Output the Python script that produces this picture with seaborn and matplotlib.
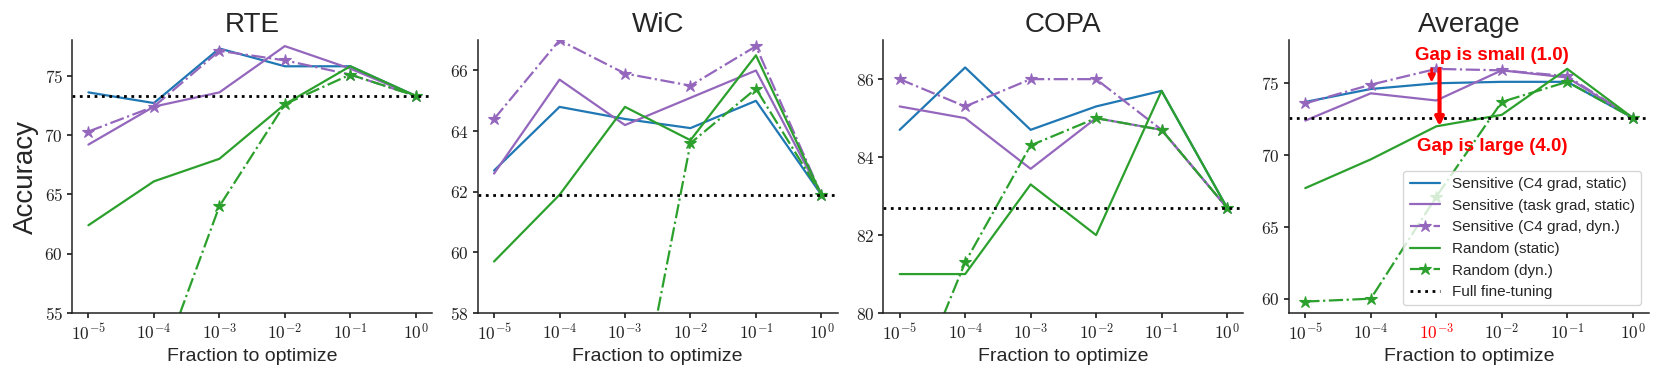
import numpy as np
import pandas as pd
import matplotlib
matplotlib.use("Agg")
import matplotlib.pyplot as plt
from matplotlib.ticker import FixedLocator, FixedFormatter, NullLocator
import seaborn as sns

# ---------------- data ----------------
fractions = [1e-5, 1e-4, 1e-3, 1e-2, 1e-1, 1e0]
xtick_labels = [r"$10^{-5}$", r"$10^{-4}$", r"$10^{-3}$", r"$10^{-2}$", r"$10^{-1}$", r"$10^{0}$"]
panels = ["RTE", "WiC", "COPA", "Average"]

series_names = [
    "Sensitive (C4 grad, static)",
    "Sensitive (task grad, static)",
    "Sensitive (C4 grad, dyn.)",
    "Random (static)",
    "Random (dyn.)",
]

# RTE
rte_c4_static = [73.6, 72.7, 77.3, 75.8, 75.8, 73.3]
rte_task_static = [69.2, 72.4, 73.6, 77.5, 75.6, 73.3]
rte_c4_dyn = [70.3, 72.4, 77.1, 76.3, 75.1, 73.3]
rte_rand_static = [62.4, 66.1, 68.0, 72.6, 75.8, 73.3]
rte_rand_dyn = [51.0, 49.0, 64.0, 72.6, 75.1, 73.3]
rte_full = 73.3

# WiC
wic_c4_static = [62.7, 64.8, 64.4, 64.1, 65.0, 61.9]
wic_task_static = [62.6, 65.7, 64.2, 65.1, 66.0, 61.9]
wic_c4_dyn = [64.4, 67.0, 65.9, 65.5, 66.8, 61.9]
wic_rand_static = [59.7, 61.9, 64.8, 63.7, 66.5, 61.9]
wic_rand_dyn = [51.2, 50.0, 52.5, 63.6, 65.4, 61.9]
wic_full = 61.9

# COPA
copa_c4_static = [84.7, 86.3, 84.7, 85.3, 85.7, 82.7]
copa_task_static = [85.3, 85.0, 83.7, 85.0, 84.7, 82.7]
copa_c4_dyn = [86.0, 85.3, 86.0, 86.0, 84.7, 82.7]
copa_rand_static = [81.0, 81.0, 83.3, 82.0, 85.7, 82.7]
copa_rand_dyn = [77.2, 81.3, 84.3, 85.0, 84.7, 82.7]
copa_full = 82.7

# Average
avg_c4_static = [73.7, 74.6, 75.0, 75.1, 75.1, 72.6]
avg_task_static = [72.4, 74.3, 73.8, 75.9, 75.4, 72.6]
avg_c4_dyn = [73.6, 74.9, 76.0, 75.9, 75.5, 72.6]
avg_rand_static = [67.7, 69.7, 72.0, 72.8, 76.0, 72.6]
avg_rand_dyn = [59.8, 60.0, 67.1, 73.7, 75.1, 72.6]
avg_full = 72.6

panel_series = {
    "RTE": [rte_c4_static, rte_task_static, rte_c4_dyn, rte_rand_static, rte_rand_dyn],
    "WiC": [wic_c4_static, wic_task_static, wic_c4_dyn, wic_rand_static, wic_rand_dyn],
    "COPA": [copa_c4_static, copa_task_static, copa_c4_dyn, copa_rand_static, copa_rand_dyn],
    "Average": [avg_c4_static, avg_task_static, avg_c4_dyn, avg_rand_static, avg_rand_dyn],
}
panel_full = {"RTE": rte_full, "WiC": wic_full, "COPA": copa_full, "Average": avg_full}

panel_ylim = {"RTE": (55, 78), "WiC": (58, 67), "COPA": (80, 87), "Average": (59, 78)}
panel_yticks = {"RTE": [55, 60, 65, 70, 75], "WiC": [58, 60, 62, 64, 66],
                "COPA": [80, 82, 84, 86], "Average": [60, 65, 70, 75]}

# ---------------- style ----------------
sns.set_theme(style="ticks")
plt.rcParams["font.family"] = ["Liberation Sans", "DejaVu Sans"]
plt.rcParams["mathtext.fontset"] = "cm"
plt.rcParams["axes.edgecolor"] = "#222222"
plt.rcParams["xtick.color"] = "#222222"
plt.rcParams["ytick.color"] = "#222222"
plt.rcParams["xtick.major.size"] = 3.5
plt.rcParams["ytick.major.size"] = 3.5
plt.rcParams["axes.linewidth"] = 1.1

colors = ["#1f77b4", "#9467bd", "#9467bd", "#2ca02c", "#2ca02c"]
styles = ["-", "-", "-.", "-", "-."]
markers = [None, None, "*", None, "*"]

fig, axes = plt.subplots(1, 4, figsize=(16.6, 3.79), dpi=100)
fig.subplots_adjust(left=0.0434, right=0.9934, bottom=0.174, top=0.894, wspace=0.1264)

for ax, name in zip(axes, panels):
    for vals, lab, c, ls, mk in zip(panel_series[name], series_names, colors, styles, markers):
        df = pd.DataFrame({"x": fractions, "y": vals})
        kw = dict(color=c, linestyle=ls, linewidth=1.6, label=lab)
        if mk is not None:
            kw.update(marker=mk, markersize=9, markeredgecolor=c, markerfacecolor=c,
                      markeredgewidth=0.8)
        sns.lineplot(data=df, x="x", y="y", ax=ax, legend=False, **kw)
    ax.axhline(panel_full[name], color="black", linestyle=":", linewidth=2,
               label="Full fine-tuning")
    ax.set_xscale("log")
    ax.xaxis.set_major_locator(FixedLocator(fractions))
    ax.xaxis.set_major_formatter(FixedFormatter(xtick_labels))
    ax.xaxis.set_minor_locator(NullLocator())
    ax.set_ylim(*panel_ylim[name])
    yt = panel_yticks[name]
    ax.yaxis.set_major_locator(FixedLocator(yt))
    ax.yaxis.set_major_formatter(FixedFormatter([f"${v}$" for v in yt]))
    ax.tick_params(axis="both", labelsize=12.5, pad=3)
    ax.set_title(name, fontsize=20)
    ax.set_xlabel("Fraction to optimize", fontsize=14)
    ax.set_ylabel("")
    sns.despine(ax=ax)

axes[0].set_ylabel("Accuracy", fontsize=20)

# Average panel annotations
ax = axes[3]
ax.get_xticklabels()[2].set_color("red")
ax.annotate("", xy=(10 ** -3.07, 75.05), xytext=(10 ** -3.07, 76.0),
            arrowprops=dict(arrowstyle="-|>", color="red", lw=2.0, mutation_scale=10,
                            shrinkA=0, shrinkB=0))
ax.annotate("", xy=(10 ** -2.95, 72.0), xytext=(10 ** -2.95, 76.0),
            arrowprops=dict(arrowstyle="-|>", color="red", lw=3, mutation_scale=12,
                            shrinkA=0, shrinkB=0))
ax.text(10 ** -2.15, 76.9, "Gap is small (1.0)", color="red", fontsize=13.5,
        fontweight="bold", ha="center", va="center")
ax.text(10 ** -2.15, 70.6, "Gap is large (4.0)", color="red", fontsize=13.5,
        fontweight="bold", ha="center", va="center")

handles, labels = ax.get_legend_handles_labels()
ax.legend(handles, labels, loc="lower right", fontsize=11, frameon=True)

fig.savefig("out.png", dpi=100)
